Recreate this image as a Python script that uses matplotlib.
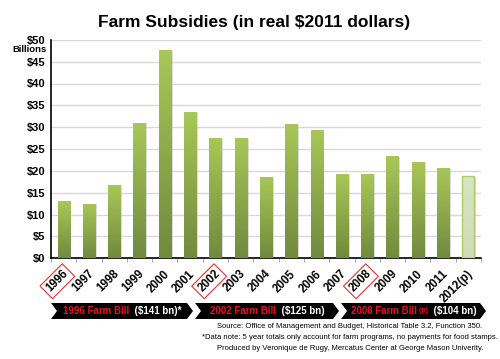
import numpy as np
import matplotlib
matplotlib.use("Agg")
import matplotlib.pyplot as plt
from matplotlib.patches import Polygon
from matplotlib.colors import LinearSegmentedColormap

plt.rcParams['font.family'] = ['Liberation Sans', 'DejaVu Sans']

# Data (billions, real 2011 dollars)
years = ["1996", "1997", "1998", "1999", "2000", "2001", "2002", "2003", "2004",
         "2005", "2006", "2007", "2008", "2009", "2010", "2011", "2012(p)"]
subsidies = [13.0, 12.5, 16.7, 31.0, 47.7, 33.4, 27.5, 27.5, 18.6,
             30.7, 29.3, 19.3, 19.3, 23.3, 22.0, 20.6, 18.8]
boxed_years = ["1996", "2002", "2008"]
y_ticks = [0, 5, 10, 15, 20, 25, 30, 35, 40, 45, 50]

bills = [("1996 Farm Bill", "", "($141 bn)*"),
         ("2002 Farm Bill", "", "($125 bn)"),
         ("2008 Farm Bill", "(p)", "($104 bn)")]

W, H = 500, 359
fig = plt.figure(figsize=(5, 3.59), dpi=100)
ax = fig.add_axes([51 / W, 1 - 258.3 / H, 430 / W, 218.5 / H])

x = np.arange(len(years))
bars = ax.bar(x, subsidies, width=0.48, color="none", zorder=3)

grad = LinearSegmentedColormap.from_list("g", ["#728a3e", "#a8c757"])
pale = LinearSegmentedColormap.from_list("p", ["#cfdcb5", "#d8e4c2"])
for i, b in enumerate(bars):
    x0, w, h = b.get_x(), b.get_width(), b.get_height()
    cmap = pale if years[i].endswith("(p)") else grad
    # soft shadow
    ax.bar(x0 + w / 2 + 0.07, h - 0.15, width=w, color="#bbbbbb", alpha=0.5,
           zorder=2, linewidth=0)
    im = ax.imshow(np.linspace(0, 1, 64).reshape(-1, 1), cmap=cmap,
                   extent=[x0, x0 + w, 0, h], origin="lower", aspect="auto",
                   zorder=3)
    im.set_clip_path(b)
    if years[i].endswith("(p)"):
        ax.bar(x0 + w / 2, h, width=w, color="none", edgecolor="#a9cf6b",
               linewidth=1.0, zorder=4)

ax.set_xlim(-0.5, len(years) - 0.5)
ax.set_ylim(0, 50)
ax.set_yticks(y_ticks)
ax.set_yticklabels([f"${v}" for v in y_ticks], fontsize=8, fontweight="bold")
ax.yaxis.grid(True, color="#d9d9d9", linewidth=1.0, zorder=0)
ax.set_axisbelow(True)
ax.tick_params(axis="y", length=0, pad=4)

ax.set_xticks(x)
ax.set_xticklabels([])
ax.tick_params(axis="x", which="major", length=0)
ax.set_xticks(np.arange(len(years) + 1) - 0.5, minor=True)
ax.tick_params(axis="x", which="minor", length=3, color="#999999")

for s in ["top", "right"]:
    ax.spines[s].set_visible(False)
ax.spines["left"].set_linewidth(1.2)
ax.spines["bottom"].set_linewidth(1.2)

for i, yr in enumerate(years):
    kw = {}
    if yr in boxed_years:
        kw["bbox"] = dict(boxstyle="square,pad=0.25", facecolor="white",
                          edgecolor="#e03030", linewidth=0.8)
    ax.text(i + 0.28, -2.2, yr, rotation=45, ha="right", va="top",
            fontsize=8.3, fontweight="bold", **kw)

fig.text(47 / W, 1 - 50 / H, "Billions", ha="right", va="center",
         fontsize=6.8, fontweight="bold")

fig.text(254 / W, 1 - 23 / H, "Farm Subsidies (in real $2011 dollars)",
         ha="center", va="center", fontsize=12.5, fontweight="bold")

# bill banners
top, bot = 1 - 303 / H, 1 - 319 / H
mid = (top + bot) / 2
segs = [(51, 187, 193), (195, 333, 339), (341, 480, 486)]
for (l, r, tip), (red, small, white) in zip(segs, bills):
    n = 6
    pts = [(l / W, top), (r / W, top), (tip / W, mid), (r / W, bot),
           (l / W, bot), ((l + n) / W, mid)]
    fig.patches.append(Polygon(pts, closed=True, transform=fig.transFigure,
                               facecolor="black", edgecolor="none"))
    cx = (l + tip) / 2 / W
    t1 = fig.text(0, mid, red, color="#e8141a", fontsize=7, fontweight="bold",
                  va="center")
    fig.canvas.draw()
    r = fig.canvas.get_renderer()
    w1 = t1.get_window_extent(r).width
    t2 = fig.text(0, mid, (" " + small if small else ""), color="#e8141a",
                  fontsize=5, fontweight="bold", va="center")
    w2 = t2.get_window_extent(r).width if small else 0
    t3 = fig.text(0, mid, "  " + white, color="white", fontsize=7,
                  fontweight="bold", va="center")
    w3 = t3.get_window_extent(r).width
    start = cx * W - (w1 + w2 + w3) / 2
    t1.set_x(start / W)
    t2.set_x((start + w1) / W)
    t3.set_x((start + w1 + w2) / W)

footer = ["Source: Office of Management and Budget, Historical Table 3.2, Function 350.",
          "*Data note: 5 year totals only account for farm programs, no payments for food stamps.",
          "Produced by Veronique de Rugy, Mercatus Center at George Mason Univerity."]
for k, line in enumerate(footer):
    fig.text(350 / W, 1 - (327 + 10.5 * k) / H, line, ha="center", va="center",
             fontsize=5.5)

fig.savefig("out.png", dpi=100)
